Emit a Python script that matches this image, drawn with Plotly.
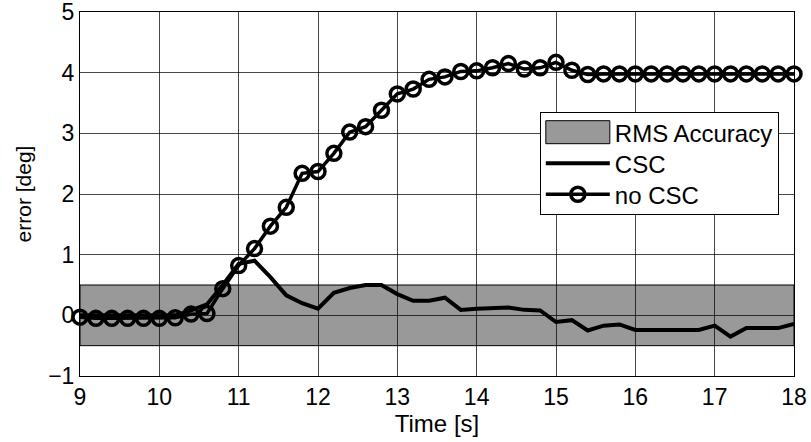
import plotly.graph_objects as go

# Sample times [s]
time_s = [9.0, 9.2, 9.4, 9.6, 9.8, 10.0, 10.2, 10.4, 10.6, 10.8,
          11.0, 11.2, 11.4, 11.6, 11.8, 12.0, 12.2, 12.4, 12.6, 12.8,
          13.0, 13.2, 13.4, 13.6, 13.8, 14.0, 14.2, 14.4, 14.6, 14.8,
          15.0, 15.2, 15.4, 15.6, 15.8, 16.0, 16.2, 16.4, 16.6, 16.8,
          17.0, 17.2, 17.4, 17.6, 17.8, 18.0]

# Pointing error with CSC [deg]
err_csc = [0.0, 0.0, 0.0, 0.0, 0.0, 0.0, 0.0, 0.08, 0.18, 0.50,
           0.85, 0.90, 0.63, 0.33, 0.20, 0.11, 0.37, 0.45, 0.50, 0.50,
           0.35, 0.24, 0.24, 0.29, 0.09, 0.11, 0.12, 0.13, 0.09, 0.08,
           -0.11, -0.08, -0.25, -0.17, -0.15, -0.24, -0.24, -0.24, -0.24, -0.24,
           -0.17, -0.35, -0.21, -0.21, -0.21, -0.14]

# Pointing error without CSC [deg]
err_no_csc = [-0.03, -0.05, -0.05, -0.05, -0.05, -0.05, -0.04, 0.02, 0.03, 0.44,
              0.82, 1.10, 1.47, 1.78, 2.34, 2.37, 2.67, 3.02, 3.11, 3.38,
              3.65, 3.73, 3.89, 3.93, 4.02, 4.03, 4.08, 4.15, 4.06, 4.08,
              4.17, 4.04, 3.97, 3.98, 3.98, 3.98, 3.98, 3.98, 3.98, 3.98,
              3.98, 3.98, 3.98, 3.98, 3.98, 3.98]

# RMS accuracy band [deg]
rms_low = -0.5
rms_high = 0.5

x_ticks = [9, 10, 11, 12, 13, 14, 15, 16, 17, 18]
y_ticks = [-1, 0, 1, 2, 3, 4, 5]

FONT = "Liberation Sans, Arial, sans-serif"
BAND_COLOR = "#999999"

fig = go.Figure()

# Legend entry for the accuracy band (the band itself is a shape below the grid)
fig.add_trace(go.Scatter(
    x=[None], y=[None], name="RMS Accuracy", mode="lines",
    fill="toself", fillcolor=BAND_COLOR,
    line=dict(color="black", width=1),
))

fig.add_trace(go.Scatter(
    x=time_s, y=err_csc, name="CSC", mode="lines",
    line=dict(color="black", width=4),
    cliponaxis=False,
))

fig.add_trace(go.Scatter(
    x=time_s, y=err_no_csc, name="no CSC", mode="lines+markers",
    line=dict(color="black", width=3.5),
    marker=dict(symbol="circle-open", size=14, color="black",
                line=dict(width=3.5, color="black")),
    cliponaxis=False,
))

fig.add_shape(
    type="rect", xref="x", yref="y",
    x0=time_s[0], x1=time_s[-1], y0=rms_low, y1=rms_high,
    fillcolor=BAND_COLOR, line=dict(color="black", width=1),
    layer="below",
)

axis_common = dict(
    showline=True, linecolor="black", linewidth=1, mirror=True,
    showgrid=True, gridcolor="rgba(0,0,0,0.72)", gridwidth=1,
    zeroline=False, ticks="", automargin=False, ticklabeloverflow="allow",
    tickfont=dict(family=FONT, size=23, color="black"),
)

fig.update_xaxes(
    range=[9, 18], tickvals=x_ticks,
    title=dict(text="Time [s]", font=dict(family=FONT, size=24, color="black"),
               standoff=2),
    **axis_common,
)
fig.update_yaxes(
    range=[-1, 5], tickvals=y_ticks,
    title=dict(text="error [deg]", font=dict(family=FONT, size=21, color="black"),
               standoff=10),
    **axis_common,
)

fig.update_layout(
    width=811, height=442,
    margin=dict(l=80, r=17, t=12, b=66),
    paper_bgcolor="white", plot_bgcolor="white",
    font=dict(family=FONT, color="black"),
    showlegend=True,
    legend=dict(
        x=0.644, y=0.725, xanchor="left", yanchor="top",
        bgcolor="white", bordercolor="black", borderwidth=1,
        font=dict(family=FONT, size=24, color="black"),
        itemwidth=64, tracegroupgap=0,
    ),
)

# Legend touch-ups: full-height box swatch for the band, tighter row spacing
legend_js = """
var gd = document.querySelector('.plotly-graph-div');
var traces = gd.querySelectorAll('.legend .traces');
if (traces.length > 1) {
  var refLine = traces[1].querySelector('.legendlines path');
  var fillPath = traces[0].querySelector('.legendfill path');
  if (refLine && fillPath) {
    var bb = refLine.getBBox();
    var h = 23;
    fillPath.setAttribute('d', 'M' + bb.x + ',' + (-h / 2) + 'h' + bb.width +
                          'v' + h + 'h' + (-bb.width) + 'z');
    fillPath.style.stroke = 'black';
    fillPath.style.strokeWidth = '1px';
    fillPath.style.fill = '#999999';
    fillPath.style.opacity = 1;
  }
  var ownLine = traces[0].querySelector('.legendlines path');
  if (ownLine) { ownLine.style.opacity = 0; }

  var rowGap = 31, lift = 3;
  var pos = [];
  traces.forEach(function (t) {
    var m = /translate\\(\\s*([-\\d.e]+)[\\s,]+([-\\d.e]+)\\s*\\)/.exec(t.getAttribute('transform') || '');
    pos.push(m ? [parseFloat(m[1]), parseFloat(m[2])] : null);
  });
  if (pos.every(function (p) { return p !== null; })) {
    var y0 = pos[0][1] - lift;
    var oldLast = pos[pos.length - 1][1];
    traces.forEach(function (t, i) {
      t.setAttribute('transform', 'translate(' + pos[i][0] + ',' + (y0 + rowGap * i) + ')');
    });
    var newLast = y0 + rowGap * (pos.length - 1);
    var bg = gd.querySelector('.legend .bg');
    if (bg) {
      var oldH = parseFloat(bg.getAttribute('height'));
      bg.setAttribute('height', oldH - (oldLast - newLast) - lift);
    }
  }
}
"""

fig.write_html("out.html", post_script=legend_js)
